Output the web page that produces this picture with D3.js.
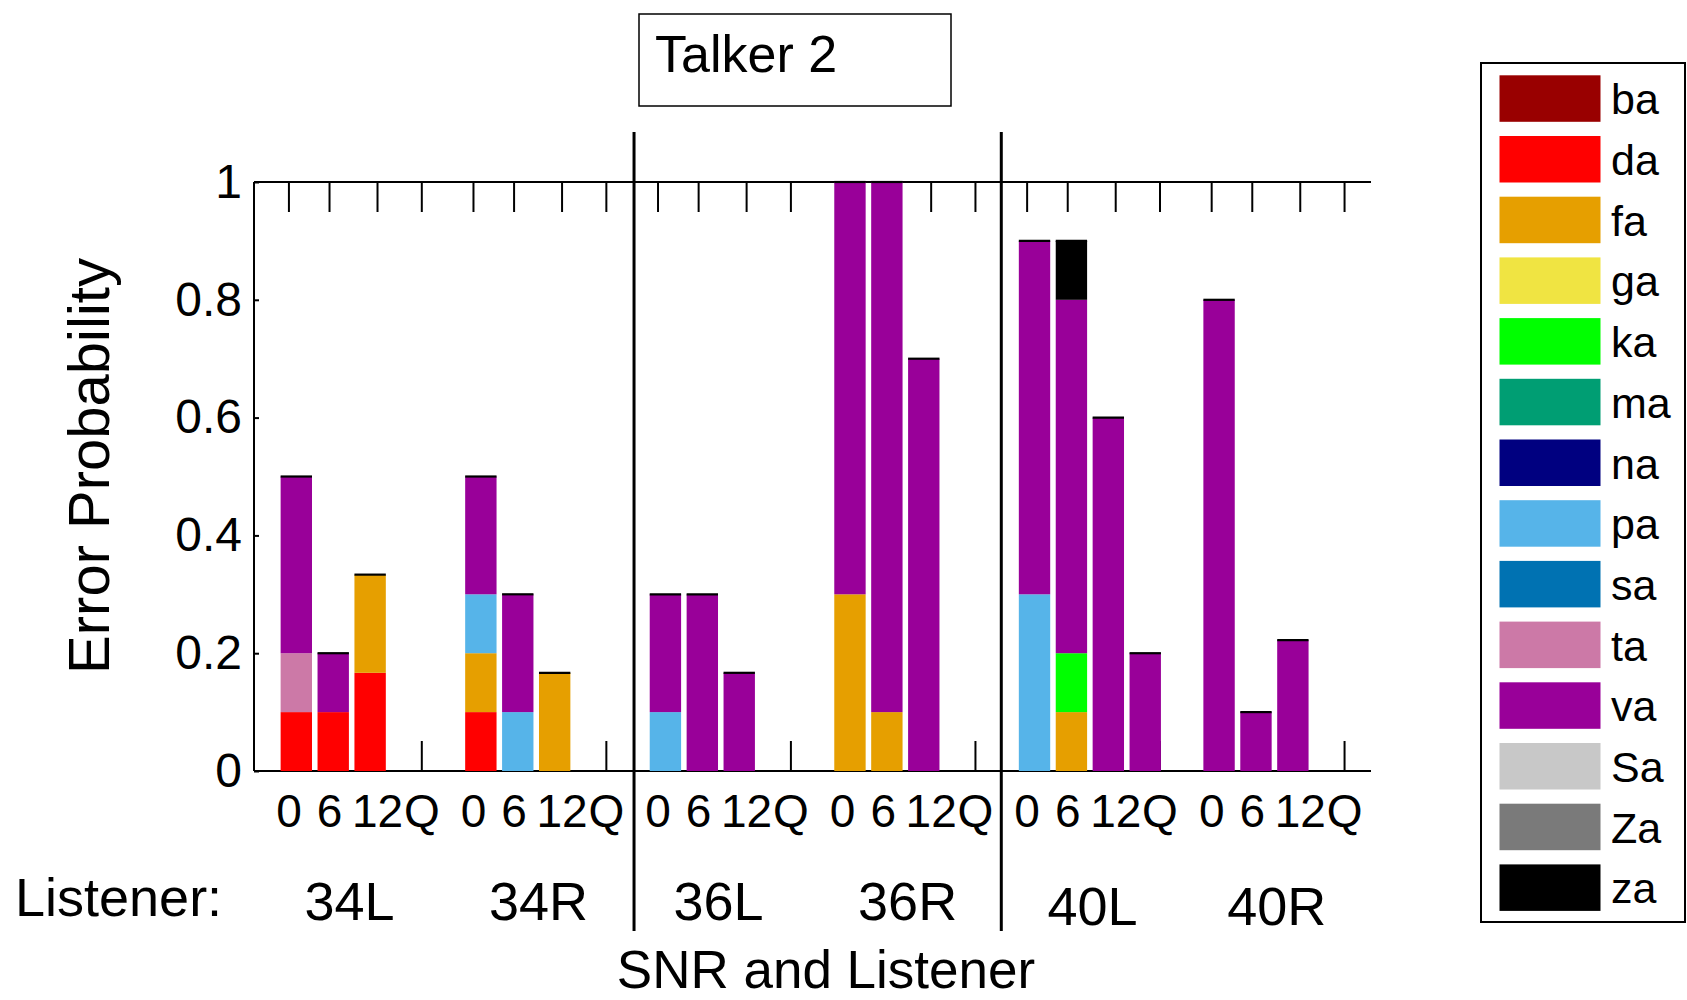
<!DOCTYPE html>
<html>
<head>
<meta charset="utf-8">
<script src="https://cdn.jsdelivr.net/npm/d3@7"></script>
<style>
  html, body { margin: 0; padding: 0; background: #fff; }
  svg { display: block; }
  text { font-family: "Liberation Sans", Arial, Helvetica, sans-serif; fill: #000; }
</style>
</head>
<body>
<svg id="chart" width="1687" height="1000"></svg>
<script>
// Listeners and SNR conditions along the x axis
const listeners = ["34L", "34R", "36L", "36R", "40L", "40R"];
const snrLabels = ["0", "6", "12", "Q"];
// Where each SNR tick sits inside a listener block (in bar-slot units)
const snrTickOffsets = [0.8, 1.9, 3.2, 4.4];

// Response syllables (stack order, bottom to top) and their colours
const syllables = ["ba", "da", "fa", "ga", "ka", "ma", "na", "pa", "sa", "ta", "va", "Sa", "Za", "za"];
const syllableColors = ["#990000", "#ff0000", "#e69f00", "#f0e442", "#00ff00", "#009e73", "#000080",
                        "#56b4e9", "#0072b2", "#cc79a7", "#990099", "#c8c8c8", "#7a7a7a", "#000000"];

const yTicks = [0, 0.2, 0.4, 0.6, 0.8, 1];

// Error probabilities per confusion, 24 values each:
// 34L(0,6,12,Q) 34R(0,6,12,Q) 36L(...) 36R(...) 40L(...) 40R(...)
const ba = [0,0,0,0,   0,0,0,0,   0,0,0,0,   0,0,0,0,   0,0,0,0,   0,0,0,0];
const da = [0.1,0.1,0.1667,0, 0.1,0,0,0, 0,0,0,0, 0,0,0,0, 0,0,0,0, 0,0,0,0];
const fa = [0,0,0.1667,0, 0.1,0,0.1667,0, 0,0,0,0, 0.3,0.1,0,0, 0,0.1,0,0, 0,0,0,0];
const ga = [0,0,0,0,   0,0,0,0,   0,0,0,0,   0,0,0,0,   0,0,0,0,   0,0,0,0];
const ka = [0,0,0,0,   0,0,0,0,   0,0,0,0,   0,0,0,0,   0,0.1,0,0, 0,0,0,0];
const ma = [0,0,0,0,   0,0,0,0,   0,0,0,0,   0,0,0,0,   0,0,0,0,   0,0,0,0];
const na = [0,0,0,0,   0,0,0,0,   0,0,0,0,   0,0,0,0,   0,0,0,0,   0,0,0,0];
const pa = [0,0,0,0,   0.1,0.1,0,0, 0.1,0,0,0, 0,0,0,0, 0.3,0,0,0, 0,0,0,0];
const sa = [0,0,0,0,   0,0,0,0,   0,0,0,0,   0,0,0,0,   0,0,0,0,   0,0,0,0];
const ta = [0.1,0,0,0, 0,0,0,0,   0,0,0,0,   0,0,0,0,   0,0,0,0,   0,0,0,0];
const va = [0.3,0.1,0,0, 0.2,0.2,0,0, 0.2,0.3,0.1667,0, 0.7,0.9,0.7,0, 0.6,0.6,0.6,0.2, 0.8,0.1,0.2222,0];
const Sa = [0,0,0,0,   0,0,0,0,   0,0,0,0,   0,0,0,0,   0,0,0,0,   0,0,0,0];
const Za = [0,0,0,0,   0,0,0,0,   0,0,0,0,   0,0,0,0,   0,0,0,0,   0,0,0,0];
const za = [0,0,0,0,   0,0,0,0,   0,0,0,0,   0,0,0,0,   0,0.1,0,0, 0,0,0,0];

const seriesValues = { ba, da, fa, ga, ka, ma, na, pa, sa, ta, va, Sa, Za, za };

// One row per (listener, SNR) condition
const rows = [];
listeners.forEach((L, g) => {
  snrLabels.forEach((s, k) => {
    const i = g * snrLabels.length + k;
    const row = { listener: L, snr: s, slot: g * 5 + k + 1 };
    syllables.forEach(name => { row[name] = seriesValues[name][i]; });
    rows.push(row);
  });
});

const svg = d3.select("#chart");

// Scales: x in bar-slot units (5 slots per listener), y in probability
const x = d3.scaleLinear().domain([0, 30]).range([259.4, 1366.7]);
const y = d3.scaleLinear().domain([0, 1]).range([771, 182]);
const slotW = x(1) - x(0);
const barW = slotW * 0.85;
const color = d3.scaleOrdinal().domain(syllables).range(syllableColors);

const frameLeft = 254, frameRight = 1371;

// Frame: top and bottom lines
const frame = svg.append("g").attr("stroke", "#000").attr("stroke-width", 2);
frame.append("line").attr("x1", frameLeft).attr("x2", frameRight).attr("y1", y(1)).attr("y2", y(1));
frame.append("line").attr("x1", frameLeft).attr("x2", frameRight).attr("y1", y(0)).attr("y2", y(0));

// SNR ticks at top (pointing down) and bottom (pointing up)
const tickPositions = [];
listeners.forEach((L, g) => snrLabels.forEach((s, k) => tickPositions.push({ label: s, pos: g * 5 + snrTickOffsets[k] })));
const tickLen = 30;
const xt = svg.append("g").attr("stroke", "#000").attr("stroke-width", 2);
xt.selectAll("line.top").data(tickPositions).join("line").attr("class", "top")
  .attr("x1", d => x(d.pos)).attr("x2", d => x(d.pos))
  .attr("y1", y(1)).attr("y2", y(1) + tickLen);
xt.selectAll("line.bot").data(tickPositions).join("line").attr("class", "bot")
  .attr("x1", d => x(d.pos)).attr("x2", d => x(d.pos))
  .attr("y1", y(0)).attr("y2", y(0) - tickLen);

// SNR tick labels
svg.append("g").selectAll("text").data(tickPositions).join("text")
  .attr("x", d => x(d.pos)).attr("y", 827)
  .attr("text-anchor", "middle").attr("font-size", 46)
  .text(d => d.label);

// Y axis
const yAxis = d3.axisLeft(y).tickValues(yTicks).tickSize(-5).tickPadding(12)
  .tickFormat(d => d === 0 ? "0" : d === 1 ? "1" : d3.format(".1f")(d));
const yg = svg.append("g").attr("transform", `translate(${frameLeft},0)`).call(yAxis);
yg.select(".domain").attr("stroke", "#000").attr("stroke-width", 2).attr("d", `M0,${y(1)}V${y(0)}`);
yg.selectAll(".tick line").attr("stroke", "#000").attr("stroke-width", 2);
yg.selectAll(".tick text").attr("font-size", 48).attr("font-family", "Liberation Sans, Arial, sans-serif").attr("fill", "#000");

// Stacked bars
const stacked = d3.stack().keys(syllables)(rows);
const barsG = svg.append("g");
barsG.selectAll("g").data(stacked).join("g")
  .attr("fill", d => color(d.key))
  .selectAll("rect").data(d => d.filter(p => p[1] - p[0] > 0)).join("rect")
  .attr("x", p => x(p.data.slot) - barW / 2)
  .attr("width", barW)
  .attr("y", p => y(p[1]))
  .attr("height", p => y(p[0]) - y(p[1]));

// Black edge on top of each non-empty stack
const topSeries = stacked[stacked.length - 1];
barsG.append("g").attr("stroke", "#000").attr("stroke-width", 2.2)
  .selectAll("line").data(topSeries.filter(p => p[1] > 0)).join("line")
  .attr("x1", p => x(p.data.slot) - barW / 2)
  .attr("x2", p => x(p.data.slot) + barW / 2)
  .attr("y1", p => y(p[1])).attr("y2", p => y(p[1]));

// Dividers between listener pairs
const dividerSlots = [10.15, 20.1];
svg.append("g").attr("stroke", "#000").attr("stroke-width", 3)
  .selectAll("line").data(dividerSlots).join("line")
  .attr("x1", d => x(d)).attr("x2", d => x(d))
  .attr("y1", 132).attr("y2", 931);

// Listener labels
svg.append("text").attr("x", 15).attr("y", 916).attr("font-size", 54).text("Listener:");
svg.append("g").selectAll("text").data(listeners).join("text")
  .attr("x", (d, g) => x(g * 5 + (g === 4 ? 1.35 : 1.22)))
  .attr("y", (d, g) => g >= 4 ? 925 : 920)
  .attr("text-anchor", "start").attr("font-size", 54)
  .text(d => d);

// Axis titles
svg.append("text").attr("x", 826).attr("y", 988).attr("text-anchor", "middle")
  .attr("font-size", 53).text("SNR and Listener");
svg.append("text").attr("transform", "translate(109,466) rotate(-90)")
  .attr("text-anchor", "middle").attr("font-size", 58)
  .text("Error Probability");

// Title box
svg.append("rect").attr("x", 639).attr("y", 14).attr("width", 312).attr("height", 92)
  .attr("fill", "none").attr("stroke", "#000").attr("stroke-width", 1.5);
svg.append("text").attr("x", 655).attr("y", 72).attr("font-size", 52).text("Talker 2");

// Legend
const legendRow = d3.scaleLinear().domain([0, 1]).range([75.3, 136]);
const legend = svg.append("g");
legend.append("rect").attr("x", 1481).attr("y", 63).attr("width", 204).attr("height", 859)
  .attr("fill", "none").attr("stroke", "#000").attr("stroke-width", 2);
const items = legend.selectAll("g.item").data(syllables).join("g").attr("class", "item")
  .attr("transform", (d, i) => `translate(0,${legendRow(i)})`);
items.append("rect").attr("x", 1499.5).attr("y", 0).attr("width", 101).attr("height", 46.5)
  .attr("fill", d => color(d));
items.append("text").attr("x", 1611).attr("y", 39).attr("font-size", 43).text(d => d);
</script>
</body>
</html>
